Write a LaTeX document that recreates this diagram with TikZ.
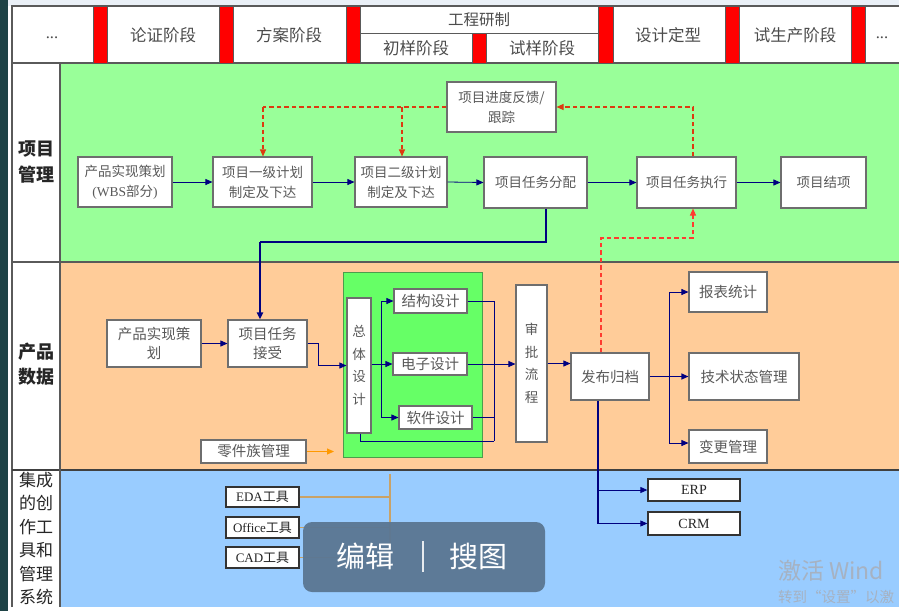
\documentclass[tikz,border=0pt]{standalone}
\usepackage{fontspec}
\setmainfont{Noto Sans CJK SC}
\newfontfamily\lat{Liberation Serif}
\usetikzlibrary{arrows.meta,calc}
\definecolor{rowA}{HTML}{99FF99}
\definecolor{rowB}{HTML}{FFCC99}
\definecolor{rowC}{HTML}{99CCFF}
\definecolor{gblk}{HTML}{66FF66}
\definecolor{navyc}{HTML}{000080}
\definecolor{redd}{HTML}{DD3A10}
\definecolor{redl}{HTML}{FF3B30}
\definecolor{orangec}{HTML}{FF9900}
\definecolor{tanc}{HTML}{C9A267}
\definecolor{tblc}{HTML}{5A5A5A}
\definecolor{boxc}{HTML}{6E6E6E}
\definecolor{txtc}{HTML}{595959}
\definecolor{darkc}{HTML}{1E4346}
\definecolor{topc}{HTML}{EAF0F7}
\definecolor{ovc}{HTML}{5B7793}
\definecolor{wmc}{HTML}{A6B2C2}
\tikzset{
  box/.style={draw=boxc, line width=1.1pt, fill=white, inner sep=0pt, align=center, text=txtc},
  fA/.style={font=\fontsize{13.5}{20}\selectfont},
  fB/.style={font=\fontsize{14.5}{19}\selectfont},
  fV/.style={font=\fontsize{13.5}{22.5}\selectfont},
  tool/.style={draw=black!80, line width=1.3pt, fill=white, inner sep=0pt, align=center, text=black!85, font=\fontsize{13}{15}\selectfont},
  hd/.style={text=black!70, font=\fontsize{16.5}{18}\selectfont, inner sep=0pt},
  lbl/.style={text=black!85, inner sep=0pt, align=center},
  redbar/.style={fill=red, draw=tblc, line width=0.6pt},
  tbl/.style={draw=tblc, line width=1.2pt},
  arr/.style={draw=navyc, line width=0.8pt, -{Triangle[length=7pt,width=6pt]}},
  ln/.style={draw=navyc, line width=0.8pt},
  thk/.style={draw=navyc, line width=1.8pt},
  rdash/.style={draw=redd, line width=1.1pt, dash pattern=on 4.5pt off 3pt},
  rdasharr/.style={rdash, -{Triangle[length=7pt,width=6pt]}},
  ldash/.style={draw=redl, line width=1.1pt, dash pattern=on 4.5pt off 3pt},
  ldasharr/.style={ldash, -{Triangle[length=7pt,width=6pt]}},
  tanline/.style={draw=tanc, line width=1.1pt},
}
\begin{document}
\begin{tikzpicture}[x=1pt,y=-1pt]
\useasboundingbox (0,0) rectangle (899,611);
\fill[white] (0,0) rectangle (899,611);
\fill[topc] (0,0) rectangle (899,6);
\fill[darkc] (0,0) rectangle (8,611);

% ---- rows
\fill[white] (12,6) rectangle (899,607);
\fill[rowA] (60,63) rectangle (899,262);
\fill[rowB] (60,262) rectangle (899,470);
\fill[rowC] (60,470) rectangle (899,607);
\draw[tbl] (12,607) -- (12,6) -- (899,6);
\draw[tbl] (12,63) -- (899,63);
\draw[tbl] (12,262) -- (899,262);
\draw[tbl, draw=black!75] (12,470) -- (899,470);
\draw[tbl] (60,63) -- (60,607);
\draw[draw=tblc, line width=0.8pt] (360,33) -- (598,33);

% ---- header red bars
\foreach \a/\b in {93/107,219/233,346/360,598/613,725/739,851/865}
  \draw[redbar] (\a,6) rectangle (\b,63);
\draw[redbar] (472,33) rectangle (486,63);

% ---- header texts
\node[hd] (h0) at (52,38) {\lat ...};
\node[hd] (h1) at (163,35) {论证阶段};
\node[hd] (h2) at (289,35) {方案阶段};
\node[hd, font=\fontsize{15.5}{17}\selectfont] (h3) at (479,20) {工程研制};
\node[hd] (h4) at (416,48) {初样阶段};
\node[hd] (h5) at (542,48) {试样阶段};
\node[hd] (h6) at (668,35) {设计定型};
\node[hd] (h7) at (795,35) {试生产阶段};
\node[hd] (h8) at (882,38) {\lat ...};

% ---- row labels
\node[lbl, font=\bfseries\fontsize{18}{26}\selectfont] (lab1) at (36,162) {项目\\管理};
\node[lbl, font=\bfseries\fontsize{18}{25}\selectfont] (lab2) at (36,364.5) {产品\\数据};
\node[lbl, font=\fontsize{17}{23.4}\selectfont] (lab3) at (36,538.5) {集成\\的创\\作工\\具和\\管理\\系统};

% ---- row 1 nodes
\node[box, fA, minimum width=94pt, minimum height=50pt] (wbs) at (125,182) {产品实现策划\\{\lat (WBS}部分{\lat )}};
\node[box, fA, minimum width=99pt, minimum height=50pt] (p1) at (262.5,182) {项目一级计划\\制定及下达};
\node[box, fA, minimum width=92pt, minimum height=50pt] (p2) at (401,182) {项目二级计划\\制定及下达};
\node[box, fA, minimum width=109pt, minimum height=50pt] (fb) at (501.5,107) {项目进度反馈/\\跟踪};
\node[box, fA, minimum width=103pt, minimum height=51pt] (asg) at (535.5,182.5) {项目任务分配};
\node[box, fA, minimum width=99pt, minimum height=51pt] (exe) at (686.5,182.5) {项目任务执行};
\node[box, fA, minimum width=85pt, minimum height=51pt] (cls) at (823.5,182.5) {项目结项};

% ---- row 2 nodes
\node[box, fB, minimum width=94pt, minimum height=47pt] (pl2) at (154,343.5) {产品实现策\\划};
\node[box, fB, minimum width=79pt, minimum height=47pt] (rcv) at (267.5,343.5) {项目任务\\接受};
\node[draw=green!45!black!70, line width=0.8pt, fill=gblk, minimum width=139pt, minimum height=185pt, inner sep=0pt] (gbk) at (412.5,364.5) {};
\node[box, fV, minimum width=24pt, minimum height=135pt] (zt) at (359,365.5) {总\\体\\设\\计};
\node[box, fB, minimum width=73pt, minimum height=24pt] (jg) at (430.5,301) {结构设计};
\node[box, fB, minimum width=74pt, minimum height=22pt] (dz) at (430,364) {电子设计};
\node[box, fB, minimum width=73pt, minimum height=23pt] (rj) at (435.5,417.5) {软件设计};
\node[box, fV, minimum width=31pt, minimum height=157pt] (sp) at (531.5,363.5) {审\\批\\流\\程};
\node[box, fB, minimum width=78pt, minimum height=47pt] (fg) at (610,376.5) {发布归档};
\node[box, fB, minimum width=78pt, minimum height=40pt] (bb) at (728,292) {报表统计};
\node[box, fB, minimum width=110pt, minimum height=47pt] (js) at (744,376.5) {技术状态管理};
\node[box, fB, minimum width=78pt, minimum height=33pt] (bg) at (728,446.5) {变更管理};
\node[box, fB, minimum width=105pt, minimum height=23pt] (ljz) at (253.5,451.5) {零件族管理};
\node[tool, font=\lat\fontsize{14}{15}\selectfont, minimum width=92pt, minimum height=22pt] (erp) at (694,490) {ERP};
\node[tool, font=\lat\fontsize{14}{15}\selectfont, minimum width=92pt, minimum height=23pt] (crm) at (694,523.5) {CRM};

% ---- row 3 nodes
\node[tool, minimum width=73pt, minimum height=20pt] (eda) at (262.5,497) {{\lat EDA}工具};
\node[tool, minimum width=73pt, minimum height=21pt] (off) at (262.5,527.5) {{\lat Office}工具};
\node[tool, minimum width=73pt, minimum height=21pt] (cad) at (262.5,557.5) {{\lat CAD}工具};

% ---- junction coordinates
\coordinate (jr1) at (263,107);
\coordinate (jr2) at (402,107);
\coordinate (xe) at (693,0);
\coordinate (je1) at (693,107);
\coordinate (je2) at (693,238);
\coordinate (jf) at (601,238);
\coordinate (ja1) at (546,242);
\coordinate (ja2) at (260,242);
\coordinate (jr) at (318,343.5);
\coordinate (jz) at (381,364);
\coordinate (jo) at (494,301);
\coordinate (jo2) at (494,441);
\coordinate (jzb) at (360,441);
\coordinate (jp) at (669,376.5);
\coordinate (jbg) at (669,443);
\coordinate (jd) at (598,523.5);
\coordinate (jorange) at (334,451.5);
\coordinate (jt1) at (390,474);
\coordinate (jt2) at (390,557.5);

% ---- row 1 connectors
\draw[arr] (wbs) -- (p1);
\draw[arr] (p1) -- (p2);
\draw[arr] (p2.east) -- (asg.west);
\draw[arr] (asg) -- (exe);
\draw[arr] (exe) -- (cls);
\draw[rdash] (fb.west) -- (jr1);
\draw[rdasharr] (jr1) -- (jr1 |- p1.north);
\draw[rdasharr] (jr2) -- (jr2 |- p2.north);
\draw[rdasharr] (xe |- exe.north) -- (je1) -- (fb.east);
\draw[ldasharr] (jf |- fg.north) -- (jf) -- (je2) -- (xe |- exe.south);

% ---- cross-row
\draw[thk] (ja1 |- asg.south) -- (ja1) -- (ja2);
\draw[thk, -{Triangle[length=7pt,width=6pt]}] (ja2) -- (ja2 |- rcv.north);

% ---- row 2 connectors
\draw[arr] (pl2) -- (rcv);
\draw[arr] (rcv.east) -- (jr) |- (zt.west);
\draw[arr] (zt.east |- jz) -- (dz.west);
\draw[arr] (jz) |- (jg.west);
\draw[arr] (jz) |- (rj.west);
\draw[ln] (jg.east) -- (jo) -- (jo2);
\draw[ln] (rj.east) -- (rj.east -| jo);
\draw[ln] (zt.south -| jzb) -- (jzb) -- (jo2);
\draw[arr] (dz.east) -- (dz.east -| sp.west);
\draw[arr] (sp.east) -- (sp.east -| fg.west);
\draw[ln, line width=1.1pt] (fg.east) -- (jp);
\draw[arr, line width=1.1pt] (jp) -- (js.west);
\draw[arr] (jp) |- (bb.west);
\draw[arr] (jp) -- (jbg) -- (jbg -| bg.west);
\draw[draw=orangec, line width=0.9pt, -{Triangle[length=7pt,width=6pt]}] (ljz.east) -- (jorange);
\draw[thk] (jd |- fg.south) -- (jd);
\draw[arr] (jd |- erp.west) -- (erp.west);
\draw[arr] (jd) -- (crm.west);

% ---- row 3 connectors
\draw[tanline] (jt1) -- (jt2);
\draw[tanline] (eda.east) -- (eda.east -| jt1);
\draw[tanline] (off.east) -- (off.east -| jt1);
\draw[tanline] (cad.east) -- (jt2);

% ---- screen overlay
\fill[ovc, opacity=0.96, rounded corners=9pt] (303,522) rectangle (545,592);
\node[text=white, font=\fontsize{29}{30}\selectfont, inner sep=0pt] (ov1) at (365,556) {编辑};
\node[text=white, font=\fontsize{29}{30}\selectfont, inner sep=0pt] (ov2) at (478,556) {搜图};
\draw[white!85!ovc, line width=1.2pt] (423,541) -- (423,572);

% ---- watermark (visible part only)
\node[text=wmc, font=\fontsize{23}{24}\selectfont, anchor=west, inner sep=0pt] (wm1) at (778,571) {激活 Wind};
\node[text=wmc, font=\fontsize{14.5}{16}\selectfont, anchor=west, inner sep=0pt] (wm2) at (778,597) {转到“设置”以激};
\end{tikzpicture}
\end{document}
